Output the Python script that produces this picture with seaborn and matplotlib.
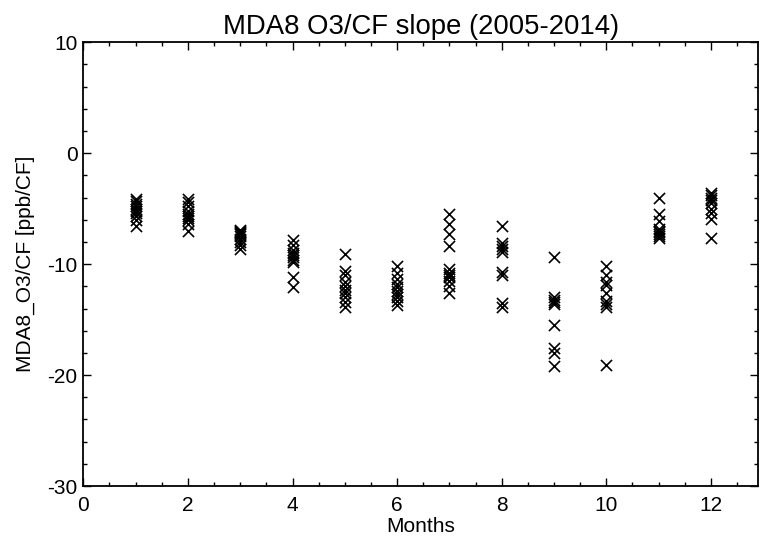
import matplotlib
matplotlib.use("Agg")
import matplotlib.pyplot as plt
import seaborn as sns
import pandas as pd
from matplotlib.ticker import MultipleLocator

# ---- data ----
m01 = [-4.1, -4.3, -4.6, -4.8, -5.0, -5.2, -5.4, -5.7, -6.0, -6.6]
m02 = [-4.1, -4.4, -4.8, -5.2, -5.5, -5.7, -5.8, -6.0, -6.4, -7.0]
m03 = [-6.9, -7.0, -7.1, -7.2, -7.3, -7.5, -7.7, -8.0, -8.3, -8.6]
m04 = [-7.8, -8.3, -8.7, -9.0, -9.2, -9.4, -9.6, -9.8, -11.2, -12.1]
m05 = [-9.1, -10.6, -11.0, -11.6, -12.0, -12.3, -12.6, -13.0, -13.4, -13.9]
m06 = [-10.2, -10.8, -11.3, -11.8, -12.1, -12.4, -12.7, -13.0, -13.3, -13.7]
m07 = [-5.5, -6.4, -7.3, -8.4, -10.4, -10.8, -11.0, -11.2, -11.5, -12.0, -12.6]
m08 = [-6.6, -8.1, -8.4, -8.6, -8.9, -10.7, -11.0, -13.5, -13.9]
m09 = [-9.4, -13.0, -13.2, -13.4, -13.6, -15.5, -17.6, -18.0, -19.2]
m10 = [-10.2, -11.0, -11.6, -11.9, -12.6, -13.3, -13.6, -13.9, -19.1]
m11 = [-4.0, -5.5, -6.1, -6.8, -7.0, -7.1, -7.3, -7.5, -7.6]
m12 = [-3.6, -3.8, -4.0, -4.2, -4.5, -5.0, -5.4, -5.9, -7.6]

months = list(range(1, 13))
slopes = [m01, m02, m03, m04, m05, m06, m07, m08, m09, m10, m11, m12]

title = "MDA8 O3/CF slope (2005-2014)"
xlabel = "Months"
ylabel = "MDA8_O3/CF [ppb/CF]"

rows = []
for m, vals in zip(months, slopes):
    for v in vals:
        rows.append({"month": m, "slope": v})
df = pd.DataFrame(rows)

sns.set_style("ticks")
plt.rcParams["font.family"] = ["Liberation Sans", "DejaVu Sans"]
plt.rcParams["axes.unicode_minus"] = False
plt.rcParams["text.color"] = "black"
plt.rcParams["axes.labelcolor"] = "black"

fig = plt.figure(figsize=(7.61, 5.39), dpi=100)
ax = fig.add_axes([83.3 / 761, 1 - 486 / 539, (758 - 83.3) / 761, (486 - 42.3) / 539])

sns.scatterplot(data=df, x="month", y="slope", marker="x", s=64,
                color="black", linewidth=1.2, ax=ax, legend=False)

ax.set_xlim(0, 12.9)
ax.set_ylim(-30, 10)
ax.xaxis.set_major_locator(MultipleLocator(2))
ax.xaxis.set_minor_locator(MultipleLocator(0.5))
ax.yaxis.set_major_locator(MultipleLocator(10))
ax.yaxis.set_minor_locator(MultipleLocator(2))

for s in ax.spines.values():
    s.set_visible(True)
    s.set_linewidth(1.3)
    s.set_color("black")

ax.tick_params(axis="both", which="both", direction="in", top=True, right=True,
               colors="black", labelcolor="black", width=1.0)
ax.tick_params(axis="x", which="major", length=6, pad=7.5, labelsize=15)
ax.tick_params(axis="x", which="minor", length=3)
ax.tick_params(axis="y", which="major", length=6, pad=4, labelsize=15)
ax.tick_params(axis="y", which="minor", length=3)

ax.set_title(title, fontsize=19.8, pad=6, color="black")
ax.set_xlabel(xlabel, fontsize=15, labelpad=1, color="black")
ax.set_ylabel(ylabel, fontsize=15, labelpad=9, color="black")

fig.savefig("out.png", dpi=100)
